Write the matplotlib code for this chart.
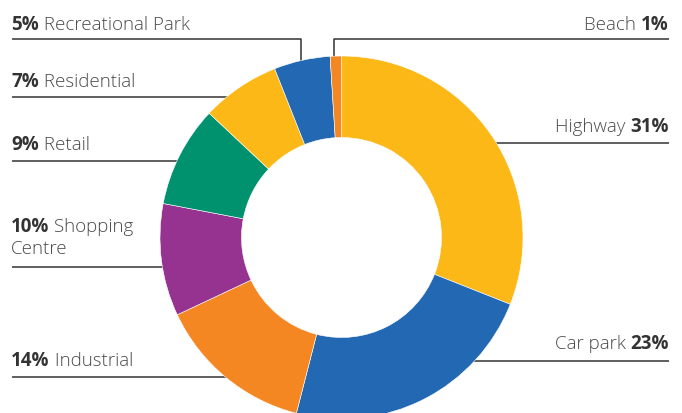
import matplotlib.pyplot as plt

# Dados do gráfico (sentido horário a partir do topo)
categories = ["Highway", "Car park", "Industrial", "Shopping\nCentre", "Retail",
              "Residential", "Recreational Park", "Beach"]
shares = [31, 23, 14, 10, 9, 7, 5, 1]
colors = ["#FBB817", "#2268B3", "#F58723", "#963290", "#00926F",
          "#FBB817", "#2268B3", "#F58723"]

# Posição dos rótulos: lado e linha de base (pixels a partir do topo)
label_side = ["right", "right", "left", "left", "left", "left", "left", "right"]
label_baseline = [132, 349, 366, 232, 150, 87, 30, 30]
line_y = [144, 362, 378, 268, 162, 98, 39.5, 39.5]

W, H = 682, 414
CX, CY = 341.5, 238.5
R_OUT, R_IN = 181.5, 100

fig = plt.figure(figsize=(W / 100, H / 100), dpi=100)
ax = fig.add_axes([0, 0, 1, 1])

def fy(y):
    # converte y de imagem (topo=0) para coordenadas do eixo
    return H - y

ax.pie(shares, colors=colors, startangle=90, counterclock=False,
       center=(CX, fy(CY)), radius=R_OUT,
       wedgeprops=dict(width=R_OUT - R_IN, edgecolor="white", linewidth=0.4),
       frame=False)
ax.set_xlim(0, W)
ax.set_ylim(0, H)
ax.axis("off")

line_kw = dict(color="#333333", lw=1.1, zorder=0, solid_capstyle="butt")
bold_kw = dict(family="Open Sans", fontsize=13.5, weight="bold", color="#333333")
light_kw = dict(family="Open Sans", fontsize=13.5, weight="light", color="#4a4a4a")

renderer = fig.canvas.get_renderer()

for name, pct, side, base, ly in zip(categories, shares, label_side, label_baseline, line_y):
    lines = name.split("\n")
    if side == "left":
        t = ax.text(11, fy(base), f"{pct}%", ha="left", va="baseline", **bold_kw)
        w = t.get_window_extent(renderer).width
        ax.text(11 + w, fy(base), " " + lines[0], ha="left", va="baseline", **light_kw)
        for i, extra in enumerate(lines[1:], start=1):
            ax.text(11, fy(base + 22 * i), extra, ha="left", va="baseline", **light_kw)
        x_end = 250 if name in ("Residential", "Industrial") else 200
        if name == "Recreational Park":
            ax.plot([12, 300.7, 300.7], [fy(ly), fy(ly), fy(75)], **line_kw)
        else:
            ax.plot([12, x_end], [fy(ly), fy(ly)], **line_kw)
    else:
        t = ax.text(669, fy(base), f"{pct}%", ha="right", va="baseline", **bold_kw)
        w = t.get_window_extent(renderer).width
        ax.text(669 - w, fy(base), name + " ", ha="right", va="baseline", **light_kw)
        if name == "Beach":
            ax.plot([669, 334, 334], [fy(ly), fy(ly), fy(70)], **line_kw)
        else:
            ax.plot([440 if name == "Car park" else 470, 669], [fy(ly), fy(ly)], **line_kw)

fig.savefig("out.png", dpi=100)
